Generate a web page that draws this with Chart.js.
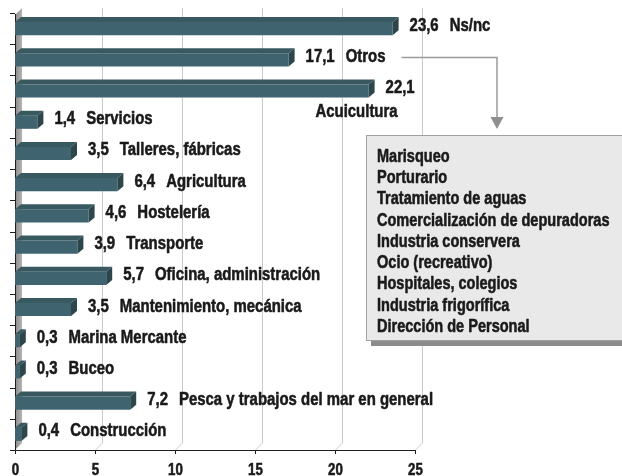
<!DOCTYPE html>
<html><head><meta charset="utf-8">
<script src="https://cdn.jsdelivr.net/npm/chart.js@4.4.0/dist/chart.umd.min.js"></script>
<style>html,body{margin:0;padding:0;background:#fff;}#wrap{width:622px;height:476px;position:relative;}</style>
</head><body><div id="wrap"><canvas id="c" width="622" height="476"></canvas></div>
<script>
const categories = ["Ns/nc","Otros","Acuicultura","Servicios","Talleres, fábricas","Agricultura","Hostelería","Transporte","Oficina, administración","Mantenimiento, mecánica","Marina Mercante","Buceo","Pesca y trabajos del mar en general","Construcción"];
const values = [23.6,17.1,22.1,1.4,3.5,6.4,4.6,3.9,5.7,3.5,0.3,0.3,7.2,0.4];
const xTicks = [0,5,10,15,20,25];
const otrosItems = ["Marisqueo","Porturario","Tratamiento de aguas","Comercialización de depuradoras","Industria conservera","Ocio (recreativo)","Hospitales, colegios","Industria frigorífica","Dirección de Personal"];

const FAMILY = '"Liberation Sans",Arial,sans-serif';
const SX = 0.83; // condensed look
const TEXT = '#1a1a1a';
const WALL_D = 7, BAR_DX = 6, BAR_DY = 5;
const belowNames = new Set(["Acuicultura"]);
const fmt = v => v.toFixed(1).replace('.', ',');

function txt(ctx, s, x, y, size, align, baseline) {
  ctx.save();
  ctx.font = 'bold ' + size + 'px ' + FAMILY;
  ctx.textBaseline = baseline || 'middle';
  ctx.textAlign = 'left';
  const w = ctx.measureText(s).width * SX;
  let lx = x;
  if (align === 'right') lx = x - w; else if (align === 'center') lx = x - w / 2;
  ctx.translate(lx, y);
  ctx.scale(SX, 1);
  ctx.fillStyle = TEXT;
  ctx.strokeStyle = TEXT;
  ctx.lineWidth = 0.55;
  ctx.lineJoin = 'round';
  ctx.fillText(s, 0, 0);
  ctx.strokeText(s, 0, 0);
  ctx.restore();
  return w;
}

const scene = {
  id: 'scene',
  beforeDatasetsDraw(chart) {
    const {ctx, chartArea: a, scales: {x, y}} = chart;
    const x0 = Math.round(x.getPixelForValue(0));
    const top = a.top, bottom = Math.round(a.bottom);
    const gTop = top - 5;
    ctx.save();
    const g = ctx.createLinearGradient(x0, 0, x0 + WALL_D, 0);
    g.addColorStop(0, '#8a8a8a'); g.addColorStop(1, '#b4b4b4');
    ctx.fillStyle = g;
    ctx.beginPath();
    ctx.moveTo(x0, gTop + WALL_D); ctx.lineTo(x0 + WALL_D, gTop);
    ctx.lineTo(x0 + WALL_D, bottom - WALL_D); ctx.lineTo(x0, bottom);
    ctx.closePath(); ctx.fill();
    ctx.strokeStyle = '#c9c9c9'; ctx.lineWidth = 1;
    xTicks.forEach(v => {
      if (v === 0) return;
      const px = Math.round(x.getPixelForValue(v)) + 0.5;
      ctx.beginPath();
      ctx.moveTo(px + WALL_D, gTop); ctx.lineTo(px + WALL_D, bottom - WALL_D); ctx.lineTo(px, bottom);
      ctx.stroke();
    });
    ctx.strokeStyle = '#1e1e1e';
    ctx.beginPath();
    ctx.moveTo(x0 + 0.5, top + 1); ctx.lineTo(x0 + 0.5, bottom + 0.5);
    ctx.lineTo(Math.round(x.getPixelForValue(25)) + 1, bottom + 0.5);
    ctx.stroke();
    for (let i = 0; i <= categories.length; i++) {
      const py = Math.round(y.getPixelForValue(i - 0.5)) + 0.5;
      ctx.beginPath(); ctx.moveTo(x0 - 5, py); ctx.lineTo(x0, py); ctx.stroke();
    }
    xTicks.forEach(v => {
      const px = Math.round(x.getPixelForValue(v)) + 0.5;
      ctx.beginPath(); ctx.moveTo(px, bottom); ctx.lineTo(px, bottom + 4); ctx.stroke();
      txt(ctx, String(v), px, bottom + 13, 16, 'center', 'top');
    });
    ctx.restore();
  },
  afterDatasetsDraw(chart) {
    const {ctx} = chart;
    const meta = chart.getDatasetMeta(0);
    ctx.save();
    let otrosAnchor = null;
    meta.data.forEach((el, i) => {
      const {x: xe, y: yc, base, height} = el.getProps(['x', 'y', 'base', 'height'], true);
      const t = yc - height / 2, b = yc + height / 2;
      ctx.fillStyle = '#395960';
      ctx.beginPath();
      ctx.moveTo(base, t); ctx.lineTo(base + BAR_DX, t - BAR_DY); ctx.lineTo(xe + BAR_DX, t - BAR_DY); ctx.lineTo(xe, t);
      ctx.closePath(); ctx.fill();
      ctx.fillStyle = '#2c464c';
      ctx.beginPath();
      ctx.moveTo(xe, t); ctx.lineTo(xe + BAR_DX, t - BAR_DY); ctx.lineTo(xe + BAR_DX, b - BAR_DY); ctx.lineTo(xe, b);
      ctx.closePath(); ctx.fill();
      const vl = fmt(values[i]);
      const vx = xe + 17, ly = yc - 3;
      const vw = txt(ctx, vl, vx, ly, 18, 'left');
      const name = categories[i];
      if (belowNames.has(name)) {
        txt(ctx, name, vx + 12, yc + 21, 18, 'right');
      } else {
        const nx = vx + vw + 11;
        const nw = txt(ctx, name, nx, ly, 18, 'left');
        if (name === 'Otros') otrosAnchor = {x: nx + nw + 16, y: ly};
      }
    });
    const bx = 366, by = 135, bw = 262, bh = 205;
    const ax = 497;
    if (otrosAnchor) {
      ctx.strokeStyle = '#9a9a9a'; ctx.lineWidth = 1.5;
      ctx.beginPath();
      ctx.moveTo(otrosAnchor.x, Math.round(otrosAnchor.y) + 0.5);
      ctx.lineTo(ax, Math.round(otrosAnchor.y) + 0.5);
      ctx.lineTo(ax, by - 17);
      ctx.stroke();
      ctx.fillStyle = '#8f8f8f';
      ctx.beginPath(); ctx.moveTo(ax - 6.5, by - 18); ctx.lineTo(ax + 6.5, by - 18); ctx.lineTo(ax, by - 6); ctx.closePath(); ctx.fill();
    }
    ctx.fillStyle = '#8c8c8c';
    ctx.fillRect(bx + 5, by + bh, bw, 6);
    ctx.fillStyle = '#e9e9e9';
    ctx.fillRect(bx, by, bw, bh);
    ctx.strokeStyle = '#a0a0a0'; ctx.lineWidth = 1;
    ctx.strokeRect(bx + 0.5, by + 0.5, bw, bh);
    otrosItems.forEach((s, k) => txt(ctx, s, bx + 11, by + 22 + k * 21.25, 17.5, 'left'));
    ctx.restore();
  }
};

new Chart(document.getElementById('c'), {
  type: 'bar',
  data: {
    labels: categories,
    datasets: [{
      data: values,
      backgroundColor: '#3f6470',
      borderWidth: 0,
      barPercentage: 0.42,
      categoryPercentage: 1
    }]
  },
  options: {
    indexAxis: 'y',
    responsive: false,
    animation: false,
    events: [],
    layout: {padding: {left: 15, right: 207, top: 13, bottom: 26}},
    scales: {
      x: {type: 'linear', min: 0, max: 25, display: false},
      y: {display: false}
    },
    plugins: {legend: {display: false}, tooltip: {enabled: false}}
  },
  plugins: [scene]
});
</script></body></html>
